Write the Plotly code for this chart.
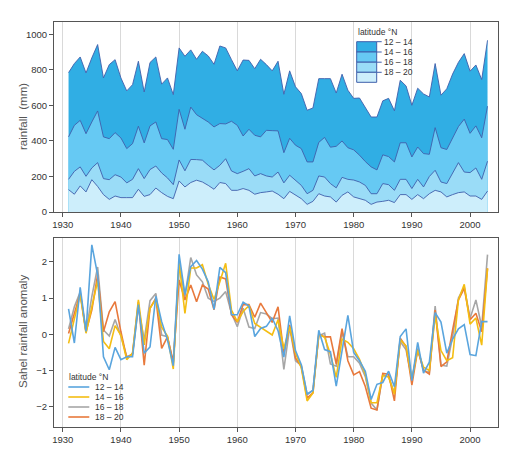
import plotly.graph_objects as go

years = list(range(1931, 2004))

# Rainfall (mm) by latitude band
rain_12_14 = [785, 836, 873, 783, 868, 943, 755, 830, 858, 755, 682, 717, 849, 676, 842, 873, 720, 755, 661, 924,
              877, 913, 860, 905, 879, 832, 935, 924, 858, 795, 856, 854, 807, 860, 830, 795, 849, 663, 795, 705,
              667, 573, 586, 751, 751, 751, 670, 776, 686, 640, 642, 588, 535, 535, 626, 640, 570, 742, 710, 601,
              697, 665, 648, 836, 658, 694, 777, 843, 892, 793, 828, 746, 967]
rain_14_16 = [423, 488, 516, 441, 507, 569, 423, 413, 447, 417, 357, 385, 483, 389, 485, 507, 413, 408, 353, 578,
              466, 591, 548, 529, 507, 479, 498, 496, 511, 488, 428, 466, 432, 423, 460, 458, 457, 334, 415, 376,
              357, 282, 282, 392, 420, 365, 370, 400, 362, 350, 320, 284, 254, 237, 322, 312, 282, 390, 390, 310,
              366, 329, 325, 475, 362, 352, 414, 481, 523, 443, 485, 418, 596]
rain_16_18 = [184, 229, 254, 201, 248, 278, 188, 182, 210, 197, 164, 184, 244, 188, 239, 259, 220, 192, 154, 293,
              232, 296, 295, 292, 263, 237, 263, 300, 231, 216, 229, 244, 203, 216, 203, 197, 225, 164, 207, 179,
              150, 103, 122, 203, 197, 160, 136, 195, 184, 180, 169, 150, 103, 103, 160, 154, 122, 184, 184, 132,
              184, 141, 200, 235, 169, 160, 216, 278, 225, 222, 248, 184, 286]
rain_18_20 = [126, 100, 147, 113, 182, 144, 98, 71, 90, 81, 81, 81, 128, 88, 98, 135, 109, 88, 75, 175,
              141, 166, 179, 169, 150, 128, 166, 160, 122, 122, 132, 122, 100, 109, 113, 118, 100, 75, 116, 94,
              75, 43, 60, 103, 90, 85, 56, 94, 113, 85, 75, 66, 43, 56, 60, 66, 53, 98, 98, 71,
              98, 75, 103, 122, 113, 85, 98, 109, 113, 90, 90, 71, 118]

# Sahel rainfall anomaly by latitude band
anom_12_14 = [0.70, -0.24, 1.30, 0.08, 2.47, 1.64, -0.62, -0.98, -0.36, -0.70, -0.62, -0.62, 0.82, -0.52, -0.35,
              1.05, 0.35, -0.15, -0.87, 2.21, 1.10, 1.87, 2.04, 1.80, 1.45, 0.69, 1.85, 1.70, 0.54, 0.54,
              0.89, 0.78, -0.06, 0.16, 0.22, 0.45, 0.10, -0.63, 0.51, -0.45, -0.84, -1.65, -1.55, 0.11, -0.42,
              -0.48, -1.43, -0.47, 0.52, -0.50, -0.73, -1.02, -1.80, -1.38, -1.33, -1.02, -1.45, -0.06, 0.15, -1.28,
              -0.22, -1.07, -0.77, 0.60, 0.34, -0.52, -0.13, 0.15, 0.27, -0.56, -0.59, 0.35, 0.35]
anom_14_16 = [-0.25, 0.41, 1.10, 0.03, 0.76, 1.48, -0.20, -0.40, 0.24, -0.03, -0.70, -0.52, 0.95, -0.29, 0.72,
              0.97, 0.20, -0.05, -0.96, 1.98, 0.58, 1.83, 1.83, 1.92, 1.38, 0.96, 1.45, 1.96, 0.67, 0.35,
              0.63, 0.79, 0.30, 0.19, 0.08, -0.02, 0.40, -0.40, 0.21, -0.52, -0.93, -1.84, -1.62, 0.00, -0.08,
              -0.55, -1.19, -0.13, -0.22, -0.40, -0.69, -1.10, -1.89, -1.89, -1.14, -1.18, -1.65, -0.15, -0.32, -1.25,
              -0.43, -0.91, -1.00, 0.52, -0.45, -0.73, -0.65, 0.95, 1.38, 0.28, 0.45, -0.30, 1.82]
anom_16_18 = [0.15, 0.76, 1.17, 0.07, 1.04, 1.86, 0.12, -0.05, 0.41, -0.05, -0.62, -0.55, 0.76, -0.16, 0.93,
              1.13, -0.02, -0.07, -0.80, 1.96, 1.04, 2.12, 1.64, 1.45, 1.00, 0.91, 1.00, 1.18, 0.58, 0.21,
              0.72, 0.20, 0.16, 0.60, 0.56, 0.43, 0.45, -0.97, 0.19, -0.73, -0.86, -1.67, -1.54, -0.04, 0.03,
              -0.82, -0.88, 0.07, -0.62, -0.62, -0.80, -1.17, -1.90, -2.09, -1.12, -1.17, -1.63, -0.20, -0.43, -1.24,
              -0.39, -0.99, -1.06, 0.78, -0.85, -0.88, -0.07, 1.00, 1.31, 0.44, 0.95, 0.21, 2.20]
anom_18_20 = [0.02, 0.58, 1.13, 0.07, 0.67, 1.64, 0.07, 0.62, 0.90, 0.07, -0.66, -0.53, 0.90, -0.85, 0.72,
              1.00, -0.39, -0.07, -0.76, 1.50, 0.95, 1.36, 0.90, 1.36, 1.25, 0.68, 1.58, 1.53, 0.54, 0.33,
              0.82, 0.82, 0.47, 0.86, 0.60, 0.33, 0.76, -0.53, 0.26, -0.65, -0.89, -1.76, -1.62, 0.00, -0.07,
              -0.07, -0.82, 0.16, -0.73, -1.12, -1.03, -1.44, -2.04, -2.09, -1.08, -1.10, -1.84, -0.11, -0.34, -1.40,
              -0.43, -0.99, -1.10, 0.67, -0.89, -0.76, 0.12, 0.95, 1.27, 0.40, 0.58, 0.07, 1.82]

band_labels = ["12 – 14", "14 – 16", "16 – 18", "18 – 20"]
fill_colors = ["#30aee4", "#66c9f3", "#9adcf7", "#cdeefb"]
edge_color = "#3f5fab"
line_colors = ["#5aa5de", "#f4bd12", "#a6a6a6", "#e8793c"]
FONT = "Liberation Sans, Arial, sans-serif"

fig = go.Figure()

rain = [rain_12_14, rain_14_16, rain_16_18, rain_18_20]
for lab, vals, col in zip(band_labels, rain, fill_colors):
    fig.add_trace(go.Scatter(x=years, y=vals, mode="lines", fill="tozeroy", fillcolor=col,
                             line=dict(color=edge_color, width=0.9), name=lab,
                             showlegend=False, xaxis="x", yaxis="y"))

anom = [anom_12_14, anom_14_16, anom_16_18, anom_18_20]
order = [2, 3, 1, 0]
for i in order:
    fig.add_trace(go.Scatter(x=years, y=anom[i], mode="lines",
                             line=dict(color=line_colors[i], width=1.6), name=band_labels[i],
                             showlegend=False, xaxis="x2", yaxis="y2"))

axis_common = dict(showline=True, mirror=True, linecolor="#555555", linewidth=1,
                   ticks="outside", ticklen=4, tickcolor="#555555", automargin=False,
                   tickfont=dict(family=FONT, size=9.5, color="#333333"))

# The page body adds an 8 px offset; work in window pixels and compensate.
OFF = 8
W, H = 510 - OFF, 451 - OFF
ml, mr, mt, mb = 54 - OFF, 12, 22 - OFF, 24
pw, ph = W - ml - mr, H - mt - mb

def px(xp):
    return (xp - OFF - ml) / pw

def py(yp):
    return (H - mb - (yp - OFF)) / ph

fig.update_layout(
    width=W, height=H,
    margin=dict(l=ml, r=mr, t=mt, b=mb, autoexpand=False),
    paper_bgcolor="white", plot_bgcolor="white",
    font=dict(family=FONT, color="#333333"),
    xaxis=dict(domain=[0, 1], anchor="y", range=[1928.5, 2004.8], tick0=1930, dtick=10,
               showgrid=True, gridcolor="#d9d9d9", gridwidth=1, zeroline=False, **axis_common),
    yaxis=dict(domain=[py(212), 1], anchor="x", range=[0, 1070], tickvals=[0, 200, 400, 600, 800, 1000],
               showgrid=False, zeroline=False, **axis_common),
    xaxis2=dict(domain=[0, 1], anchor="y2", range=[1928.5, 2004.8], tick0=1930, dtick=10,
                showgrid=True, gridcolor="#d9d9d9", gridwidth=1, zeroline=False, **axis_common),
    yaxis2=dict(domain=[0, py(238)], anchor="x2", range=[-2.56, 2.66], tickvals=[-2, -1, 0, 1, 2],
                showgrid=False, zeroline=False, **axis_common),
)

shapes = []
annotations = []

# Axis titles
annotations.append(dict(xref="paper", yref="paper", x=px(23), y=py(117), text="rainfall  (mm)",
                        textangle=-90, showarrow=False, xanchor="center", yanchor="middle",
                        font=dict(family=FONT, size=11.5, color="#555555")))
annotations.append(dict(xref="paper", yref="paper", x=px(23), y=py(332), text="Sahel rainfall anomaly",
                        textangle=-90, showarrow=False, xanchor="center", yanchor="middle",
                        font=dict(family=FONT, size=11.5, color="#555555")))

# Top legend (stacked colour boxes)
edges = [41.7, 52.0, 62.2, 72.3, 82.3]
bx0, bx1, tx = 356.7, 376.7, 381.7
for i, (lab, col) in enumerate(zip(band_labels, fill_colors)):
    shapes.append(dict(type="rect", xref="paper", yref="paper",
                       x0=px(bx0), x1=px(bx1), y0=py(edges[i + 1]), y1=py(edges[i]),
                       fillcolor=col, line=dict(color=edge_color, width=1)))
    shapes.append(dict(type="line", xref="paper", yref="paper",
                       x0=px(bx1), x1=px(tx), y0=py(edges[i]), y1=py(edges[i]),
                       line=dict(color=edge_color, width=1)))
    annotations.append(dict(xref="paper", yref="paper", x=px(tx + 0.5), y=py(edges[i]),
                            text=lab, showarrow=False, xanchor="left", yanchor="middle",
                            font=dict(family=FONT, size=8.5, color="#333333")))
annotations.append(dict(xref="paper", yref="paper", x=px(bx0 - 1), y=py(31.5), text="latitude °N",
                        showarrow=False, xanchor="left", yanchor="middle",
                        font=dict(family=FONT, size=8.5, color="#333333")))

# Bottom legend (line samples)
annotations.append(dict(xref="paper", yref="paper", x=px(67), y=py(377), text="latitude °N",
                        showarrow=False, xanchor="left", yanchor="middle",
                        font=dict(family=FONT, size=8.5, color="#333333")))
for i, (lab, col) in enumerate(zip(band_labels, line_colors)):
    yy = 387 + 10 * i
    shapes.append(dict(type="line", xref="paper", yref="paper",
                       x0=px(68.3), x1=px(89.3), y0=py(yy), y1=py(yy),
                       line=dict(color=col, width=1.6)))
    annotations.append(dict(xref="paper", yref="paper", x=px(92.5), y=py(yy), text=lab,
                            showarrow=False, xanchor="left", yanchor="middle",
                            font=dict(family=FONT, size=8.5, color="#333333")))

fig.update_layout(shapes=shapes, annotations=annotations)

fig.write_html("out.html")
